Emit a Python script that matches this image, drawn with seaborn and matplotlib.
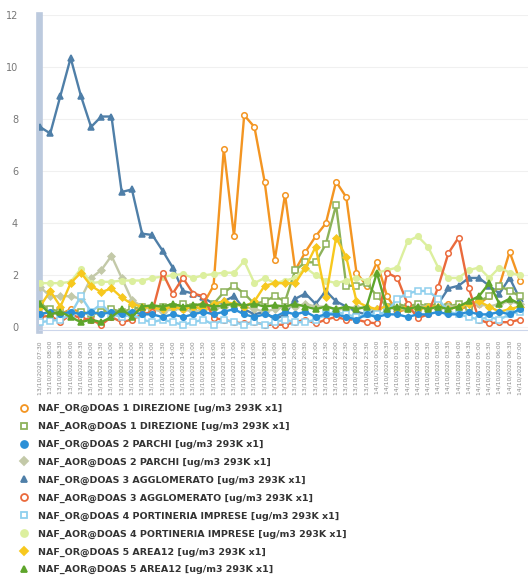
import pandas as pd
import matplotlib
matplotlib.use("Agg")
import matplotlib.pyplot as plt
from matplotlib.lines import Line2D
import seaborn as sns

#%% Dati
orari = pd.date_range("2020-10-13 07:30", periods=48, freq="30min")
etichette_x = [t.strftime("%d/%m/%Y %H:%M") for t in orari]

nomi_serie = [
    "NAF_OR@DOAS 1 DIREZIONE [ug/m3 293K x1]",
    "NAF_AOR@DOAS 1 DIREZIONE [ug/m3 293K x1]",
    "NAF_OR@DOAS 2 PARCHI [ug/m3 293K x1]",
    "NAF_AOR@DOAS 2 PARCHI [ug/m3 293K x1]",
    "NAF_OR@DOAS 3 AGGLOMERATO [ug/m3 293K x1]",
    "NAF_AOR@DOAS 3 AGGLOMERATO [ug/m3 293K x1]",
    "NAF_OR@DOAS 4 PORTINERIA IMPRESE [ug/m3 293K x1]",
    "NAF_AOR@DOAS 4 PORTINERIA IMPRESE [ug/m3 293K x1]",
    "NAF_OR@DOAS 5 AREA12 [ug/m3 293K x1]",
    "NAF_AOR@DOAS 5 AREA12 [ug/m3 293K x1]",
]

or_direzione = [0.5, 0.6, 0.5, 0.7, 0.6, 0.5, 0.6, 0.7, 0.5, 0.6, 0.7, 0.8, 0.7, 0.8, 0.7, 0.8,
                0.9, 1.6, 6.85, 3.5, 8.15, 7.7, 5.6, 2.6, 5.1, 2.2, 2.9, 3.5, 4.0, 5.6, 5.0, 2.1,
                1.6, 2.5, 1.2, 0.6, 0.7, 0.8, 0.7, 0.8, 0.9, 0.7, 0.8, 0.9, 1.2, 1.6, 2.9, 1.8]
aor_direzione = [0.9, 0.7, 0.6, 0.5, 0.6, 0.5, 0.6, 0.7, 0.6, 0.7, 0.8, 0.7, 0.8, 0.8, 0.9, 0.8,
                 0.7, 0.9, 1.35, 1.6, 1.3, 0.9, 1.0, 1.2, 1.0, 2.2, 2.5, 2.5, 3.2, 4.7, 1.6, 1.6,
                 1.7, 1.2, 0.8, 0.9, 0.8, 0.9, 0.8, 0.9, 0.8, 0.9, 0.8, 1.0, 1.2, 1.6, 1.4, 1.2]
or_parchi = [0.5, 0.6, 0.5, 0.6, 0.5, 0.6, 0.5, 0.6, 0.5, 0.6, 0.5, 0.5, 0.4, 0.5, 0.4, 0.5,
             0.6, 0.5, 0.6, 0.7, 0.5, 0.4, 0.5, 0.4, 0.6, 0.5, 0.6, 0.4, 0.5, 0.5, 0.4, 0.3,
             0.5, 0.4, 0.5, 0.5, 0.4, 0.5, 0.5, 0.6, 0.5, 0.5, 0.6, 0.5, 0.5, 0.6, 0.5, 0.7]
aor_parchi = [1.55, 1.2, 1.2, 1.2, 1.1, 1.9, 2.2, 2.75, 1.9, 1.05, 0.8, 0.7, 0.6, 0.7, 0.7, 0.6,
              0.7, 0.7, 0.8, 0.9, 0.8, 0.7, 0.6, 0.7, 0.8, 0.8, 0.9, 0.8, 0.8, 0.7, 0.7, 0.8,
              0.7, 0.7, 0.8, 0.7, 0.7, 0.8, 0.8, 0.7, 0.8, 0.8, 0.9, 0.9, 0.8, 0.9, 1.0, 0.9]
or_agglomerato = [7.7, 7.45, 8.9, 10.35, 8.9, 7.7, 8.1, 8.1, 5.2, 5.3, 3.6, 3.55, 2.95, 2.3, 1.4, 1.3,
                  1.15, 0.9, 1.0, 1.2, 0.7, 0.5, 0.6, 0.3, 0.5, 1.1, 1.3, 0.9, 1.4, 1.0, 0.8, 0.6,
                  0.5, 0.7, 0.8, 0.7, 0.8, 0.7, 0.8, 0.9, 1.5, 1.6, 1.9, 1.9, 1.6, 1.3, 1.9, 1.1]
aor_agglomerato = [0.4, 0.45, 0.2, 0.5, 0.35, 0.3, 0.1, 0.4, 0.2, 0.3, 0.5, 0.6, 2.1, 1.3, 1.9, 1.3,
                   1.2, 0.35, 0.3, 0.2, 0.15, 0.2, 0.1, 0.1, 0.1, 0.2, 0.3, 0.15, 0.3, 0.4, 0.3, 0.3,
                   0.2, 0.15, 2.1, 1.9, 0.9, 0.35, 0.5, 1.55, 2.85, 3.45, 1.5, 0.3, 0.15, 0.2, 0.2, 0.3]
or_portineria = [0.2, 0.25, 0.3, 0.5, 1.2, 0.6, 0.9, 0.5, 0.4, 0.5, 0.3, 0.2, 0.3, 0.2, 0.1, 0.2,
                 0.3, 0.1, 0.3, 0.2, 0.1, 0.2, 0.1, 0.2, 0.3, 0.2, 0.2, 0.3, 0.5, 0.6, 0.5, 0.4,
                 0.5, 0.5, 0.6, 1.1, 1.3, 1.4, 1.4, 1.1, 0.6, 0.5, 0.4, 0.3, 0.4, 0.3, 0.5, 0.6]
aor_portineria = [1.7, 1.7, 1.7, 1.75, 2.25, 1.7, 1.75, 1.75, 1.8, 1.8, 1.8, 1.9, 1.95, 2.0, 2.05, 1.9,
                  2.0, 2.05, 2.1, 2.1, 2.55, 1.7, 1.9, 1.7, 1.8, 1.9, 2.3, 2.0, 1.8, 1.7, 1.8, 1.9,
                  1.8, 2.1, 2.2, 2.3, 3.3, 3.5, 3.1, 2.3, 1.9, 1.9, 2.2, 2.3, 1.9, 2.3, 2.1, 2.0]
or_area12 = [0.8, 1.4, 0.8, 1.7, 2.1, 1.6, 1.35, 1.5, 1.15, 0.9, 0.8, 0.75, 0.7, 0.8, 0.7, 0.8,
             0.7, 0.9, 1.0, 0.9, 0.8, 1.0, 1.6, 1.7, 1.7, 1.7, 2.3, 3.1, 1.15, 3.45, 2.7, 1.0,
             0.8, 0.7, 0.8, 0.7, 0.8, 0.7, 0.8, 0.8, 0.7, 0.8, 0.9, 1.0, 0.8, 0.6, 0.7, 0.8]
aor_area12 = [0.9, 0.5, 0.6, 0.4, 0.2, 0.3, 0.2, 0.4, 0.7, 0.4, 0.8, 0.85, 0.8, 0.9, 0.8, 0.85,
              0.9, 0.8, 0.85, 0.9, 0.85, 0.9, 0.8, 0.85, 0.8, 0.9, 0.8, 0.7, 0.8, 0.7, 0.8, 0.7,
              0.8, 2.1, 0.7, 0.8, 0.7, 0.8, 0.7, 0.8, 0.7, 0.8, 1.0, 1.2, 1.7, 0.9, 1.1, 0.9]

valori = [or_direzione, aor_direzione, or_parchi, aor_parchi, or_agglomerato,
          aor_agglomerato, or_portineria, aor_portineria, or_area12, aor_area12]

colori = ["#f39522", "#8db25a", "#2b8fd6", "#c3c9a8", "#4f7fa8",
          "#ea6a3c", "#8fd0ee", "#dcef9e", "#f7c81e", "#5ea52b"]
marcatori = ["o", "s", "o", "D", "^", "o", "s", "o", "D", "^"]
vuoti = [True, True, False, False, False, True, True, False, False, False]

#%% Grafico
sns.set_style("white")
plt.rcParams["font.family"] = ["DejaVu Sans"]

fig = plt.figure(figsize=(5.28, 5.82), dpi=100)
ax = fig.add_axes([39 / 528, 1 - 330 / 582, 489 / 528, 315 / 582])

# ordine di disegno: quelle in basso prima
ordine = [4, 0, 1, 3, 7, 8, 5, 6, 2, 9]
for k in ordine:
    df = pd.DataFrame({"x": range(len(valori[k])), "valore": valori[k]})
    sns.lineplot(data=df, x="x", y="valore", ax=ax, color=colori[k], marker=marcatori[k],
                 markersize=4 if marcatori[k] != "D" else 3.5, linewidth=1.7,
                 mew=1.1, mec=colori[k],
                 markerfacecolor="white" if vuoti[k] else colori[k], zorder=3)

ax.set_xlim(-0.1, 47.8)
ax.set_ylim(-0.1, 12)
ax.set_yticks(range(0, 13, 2))
ax.set_xticks(range(len(etichette_x)))
ax.set_xticklabels(etichette_x, rotation=90, fontsize=4.3, color="#8a8a8a")
ax.tick_params(axis="y", length=0, pad=15, labelsize=7, labelcolor="#777777")
ax.tick_params(axis="x", length=3, width=0.6, color="#ccd6eb", pad=5)
ax.set_xlabel("")
ax.set_ylabel("")
ax.yaxis.grid(True, color="#f0f0f0", linewidth=0.8)
ax.set_axisbelow(True)
for s in ["top", "right"]:
    ax.spines[s].set_visible(False)
ax.spines["left"].set_color("#bccade")
ax.spines["left"].set_linewidth(4.8)
ax.spines["bottom"].set_color("#ccd6eb")
ax.spines["bottom"].set_linewidth(0.8)

maniglie = [Line2D([], [], linestyle="none", marker=marcatori[k], color=colori[k],
                   markersize=5 if marcatori[k] != "D" else 4, mew=1.3, mec=colori[k],
                   markerfacecolor="white" if vuoti[k] else colori[k])
            for k in range(len(nomi_serie))]
leg = fig.legend(maniglie, nomi_serie, loc="upper left", bbox_to_anchor=(19 / 528, 1 - 404 / 582),
                 frameon=False, handlelength=1.0, handletextpad=1.0, labelspacing=0.93,
                 prop={"size": 6.8, "weight": "bold"}, borderaxespad=0, borderpad=0)
for t in leg.get_texts():
    t.set_color("#333333")

fig.savefig("out.png", dpi=100)
